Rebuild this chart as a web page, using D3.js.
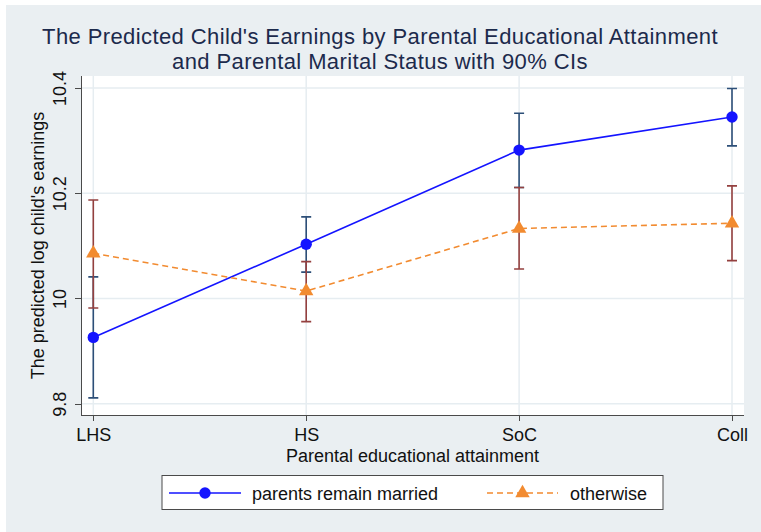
<!DOCTYPE html>
<html lang="en">
<head>
    <meta charset="UTF-8">
    <title>Predicted Child's Earnings</title>
    <script src="https://d3js.org/d3.v7.min.js"></script>
    <style>
        body { margin: 0; background: #fff; }
        svg { font-family: "Liberation Sans", Arial, Helvetica, sans-serif; display: block; }
        .grid line { stroke: #e6edf1; stroke-width: 1.5px; }
        .axis path, .axis line { stroke: #4a4a4a; shape-rendering: crispEdges; }
        .axis text { fill: #111; font-size: 18px; }
    </style>
</head>
<body>
<div id="chart"></div>
<script>
    // Data
    const categories = ["LHS", "HS", "SoC", "Coll"];
    const marriedEst = [9.926, 10.103, 10.282, 10.345];
    const marriedLo  = [9.811, 10.050, 10.211, 10.290];
    const marriedHi  = [10.041, 10.155, 10.352, 10.399];
    const otherEst = [10.086, 10.014, 10.133, 10.143];
    const otherLo  = [9.982, 9.956, 10.056, 10.072];
    const otherHi  = [10.187, 10.070, 10.211, 10.214];
    const yTicks = [9.8, 10, 10.2, 10.4];
    const seriesNames = ["parents remain married", "otherwise"];

    const W = 761, H = 532;
    const plot = { left: 81, right: 744, top: 76, bottom: 415 };

    const svg = d3.select("#chart").append("svg")
        .attr("width", W).attr("height", H);

    // Outer light background
    svg.append("rect").attr("x", 6).attr("y", 5)
        .attr("width", W - 6).attr("height", H - 5)
        .attr("fill", "#eaeff2");

    // Plot area
    svg.append("rect").attr("x", plot.left).attr("y", plot.top)
        .attr("width", plot.right - plot.left).attr("height", plot.bottom - plot.top)
        .attr("fill", "#fff");

    const x = d3.scalePoint().domain(categories).range([93.3, 732]);
    const y = d3.scaleLinear().domain([9.8, 10.4]).range([403.7, 88]);

    // Gridlines
    const grid = svg.append("g").attr("class", "grid");
    grid.selectAll(".h").data(yTicks).join("line")
        .attr("x1", plot.left).attr("x2", plot.right)
        .attr("y1", d => y(d)).attr("y2", d => y(d));
    grid.selectAll(".v").data(categories).join("line")
        .attr("x1", d => x(d)).attr("x2", d => x(d))
        .attr("y1", plot.top).attr("y2", plot.bottom);

    // Axes
    const xAxis = svg.append("g").attr("class", "axis")
        .attr("transform", `translate(0,${plot.bottom})`)
        .call(d3.axisBottom(x).tickSize(6).tickPadding(4).tickSizeOuter(0));
    xAxis.select(".domain").attr("d", `M${plot.left},0.5H${plot.right}`);
    xAxis.selectAll(".tick text").attr("dy", 0).attr("y", 25.7);

    const yAxis = svg.append("g").attr("class", "axis")
        .attr("transform", `translate(${plot.left},0)`)
        .call(d3.axisLeft(y).tickValues(yTicks).tickFormat(d3.format("~g")).tickSize(6).tickSizeOuter(0));
    yAxis.select(".domain").attr("d", `M0.5,${plot.top}V${plot.bottom}`);
    yAxis.selectAll(".tick text")
        .attr("transform", "rotate(-90)")
        .attr("x", 0).attr("y", -14.6)
        .attr("dy", "0")
        .attr("text-anchor", "middle");

    // Axis titles
    svg.append("text")
        .attr("x", (plot.left + plot.right) / 2).attr("y", 461.5)
        .attr("text-anchor", "middle").attr("font-size", 18).attr("fill", "#111")
        .text("Parental educational attainment");
    svg.append("text")
        .attr("transform", `translate(44.4,${(plot.top + plot.bottom) / 2}) rotate(-90)`)
        .attr("text-anchor", "middle").attr("font-size", 18).attr("fill", "#111")
        .text("The predicted log child's earnings");

    // Title
    const title = svg.append("text").attr("text-anchor", "middle")
        .attr("font-size", 22).attr("letter-spacing", 0.4).attr("fill", "#1c2a4c");
    title.append("tspan").attr("x", 380).attr("y", 43.5)
        .text("The Predicted Child's Earnings by Parental Educational Attainment");
    title.append("tspan").attr("x", 380).attr("y", 69)
        .text("and Parental Marital Status with 90% CIs");

    const series = [
        { est: marriedEst, lo: marriedLo, hi: marriedHi, line: "#1414ff", ci: "#2d4f78", dash: null, marker: "circle" },
        { est: otherEst, lo: otherLo, hi: otherHi, line: "#f28b30", ci: "#94403f", dash: "6,4", marker: "triangle" }
    ];

    const capW = 5;
    const lineGen = d3.line().x((d, i) => x(categories[i])).y(d => y(d));

    // Error bars
    series.forEach(s => {
        const g = svg.append("g").attr("stroke", s.ci).attr("stroke-width", 1.6).attr("fill", "none");
        categories.forEach((c, i) => {
            const cx = x(c);
            g.append("path").attr("d",
                `M${cx},${y(s.lo[i])}V${y(s.hi[i])}` +
                `M${cx - capW},${y(s.lo[i])}H${cx + capW}` +
                `M${cx - capW},${y(s.hi[i])}H${cx + capW}`);
        });
    });

    const triangle = d3.symbol().type(d3.symbolTriangle).size(90);

    function drawMarker(g, type, cx, cy, color) {
        if (type === "circle") {
            g.append("circle").attr("cx", cx).attr("cy", cy).attr("r", 5.7).attr("fill", color);
        } else {
            g.append("path").attr("d", triangle())
                .attr("transform", `translate(${cx},${cy})`).attr("fill", color);
        }
    }

    // Lines and markers
    series.forEach(s => {
        svg.append("path").datum(s.est)
            .attr("d", lineGen).attr("fill", "none")
            .attr("stroke", s.line).attr("stroke-width", 1.6)
            .attr("stroke-dasharray", s.dash);
        const g = svg.append("g");
        s.est.forEach((v, i) => drawMarker(g, s.marker, x(categories[i]), y(v), s.line));
    });

    // Legend
    const leg = svg.append("g");
    leg.append("rect").attr("x", 162).attr("y", 475.5).attr("width", 501).attr("height", 34)
        .attr("fill", "#fff").attr("stroke", "#4a4a4a").attr("stroke-width", 1);
    const legItems = [
        { x0: 169, x1: 241, tx: 252 },
        { x0: 487, x1: 558, tx: 570 }
    ];
    series.forEach((s, i) => {
        const it = legItems[i];
        leg.append("line").attr("x1", it.x0).attr("x2", it.x1).attr("y1", 493).attr("y2", 493)
            .attr("stroke", s.line).attr("stroke-width", 1.6).attr("stroke-dasharray", s.dash);
        drawMarker(leg, s.marker, (it.x0 + it.x1) / 2, 493, s.line);
        leg.append("text").attr("x", it.tx).attr("y", 499.5)
            .attr("font-size", 18).attr("fill", "#111").text(seriesNames[i]);
    });
</script>
</body>
</html>
